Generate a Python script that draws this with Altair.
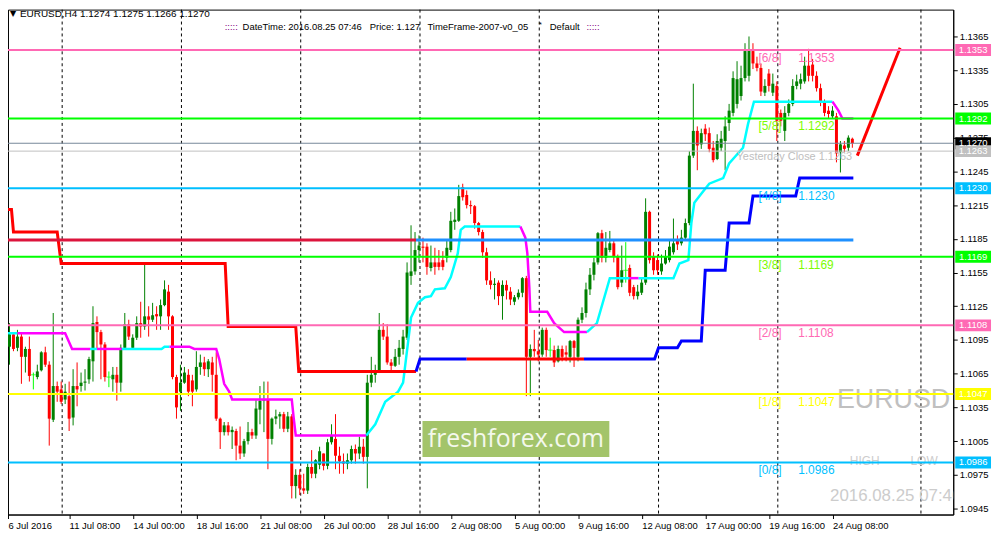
import altair as alt
import pandas as pd
import numpy as np

# ---------------- candle data (EURUSD H4, bar index 0..213) ----------------
opens = [1.1073,1.1089,1.1100,1.1088,1.1098,1.1080,1.1087,1.1064,1.1062,1.1068,
1.1084,1.1073,1.1024,1.1054,1.1051,1.1042,1.1045,1.1026,1.1054,1.1054,
1.1057,1.1060,1.1076,1.1111,1.1102,1.1091,1.1062,1.1060,1.1064,1.1057,
1.1088,1.1109,1.1088,1.1097,1.1110,1.1107,1.1116,1.1113,1.1118,1.1116,
1.1126,1.1138,1.1116,1.1062,1.1049,1.1057,1.1064,1.1059,1.1051,1.1071,
1.1075,1.1069,1.1075,1.1064,1.1025,1.1013,1.1019,1.1013,1.1014,1.1001,
1.0994,1.1005,1.1013,1.1010,1.1033,1.1041,1.1042,1.1007,1.1025,1.1027,
1.1029,1.1016,1.1027,1.0965,1.0975,1.0963,1.0961,1.0982,1.0976,1.0984,
1.0994,1.0983,1.1004,1.1007,1.0992,1.0987,1.0985,1.0988,1.0998,1.0994,
1.1000,1.0991,1.1057,1.1064,1.1068,1.1104,1.1098,1.1075,1.1072,1.1080,
1.1087,1.1097,1.1152,1.1156,1.1175,1.1178,1.1178,1.1159,1.1164,1.1164,
1.1166,1.1168,1.1175,1.1200,1.1201,1.1231,1.1224,1.1215,1.1214,1.1199,
1.1191,1.1173,1.1148,1.1144,1.1146,1.1134,1.1144,1.1138,1.1129,1.1133,
1.1137,1.1150,1.1080,1.1087,1.1085,1.1082,1.1104,1.1086,1.1086,1.1076,
1.1087,1.1084,1.1080,1.1094,1.1080,1.1113,1.1119,1.1140,1.1153,1.1164,
1.1190,1.1168,1.1175,1.1181,1.1169,1.1146,1.1157,1.1159,1.1142,1.1134,
1.1137,1.1146,1.1209,1.1169,1.1166,1.1156,1.1163,1.1166,1.1173,1.1184,
1.1181,1.1186,1.1199,1.1259,1.1281,1.1269,1.1283,1.1279,1.1266,1.1256,
1.1266,1.1272,1.1288,1.1297,1.1305,1.1312,1.1328,1.1330,1.1352,1.1341,
1.1337,1.1315,1.1332,1.1315,1.1321,1.1297,1.1281,1.1297,1.1305,1.1321,
1.1323,1.1325,1.1339,1.1340,1.1330,1.1319,1.1306,1.1299,1.1294,1.1294,
1.1262,1.1268,1.1266,1.1274]
highs = [1.1110,1.1110,1.1102,1.1104,1.1102,1.1089,1.1098,1.1066,1.1073,1.1085,
1.1089,1.1076,1.1119,1.1058,1.1058,1.1056,1.1058,1.1069,1.1075,1.1066,
1.1069,1.1080,1.1125,1.1116,1.1104,1.1093,1.1067,1.1071,1.1071,1.1091,
1.1119,1.1113,1.1100,1.1116,1.1129,1.1164,1.1125,1.1128,1.1125,1.1131,
1.1148,1.1144,1.1117,1.1064,1.1073,1.1071,1.1069,1.1064,1.1085,1.1082,
1.1080,1.1078,1.1080,1.1084,1.1026,1.1022,1.1022,1.1018,1.1016,1.1018,
1.1007,1.1022,1.1016,1.1042,1.1054,1.1058,1.1058,1.1026,1.1033,1.1031,
1.1031,1.1031,1.1029,1.0980,1.0980,1.0976,1.0985,1.0997,1.0989,1.1000,
1.0994,1.1007,1.1020,1.1029,1.1000,1.0994,1.0994,1.1001,1.1002,1.1009,
1.1007,1.1064,1.1080,1.1073,1.1119,1.1110,1.1109,1.1078,1.1087,1.1095,
1.1104,1.1164,1.1197,1.1191,1.1188,1.1186,1.1181,1.1179,1.1177,1.1175,
1.1174,1.1184,1.1209,1.1212,1.1233,1.1234,1.1228,1.1219,1.1215,1.1200,
1.1193,1.1177,1.1156,1.1150,1.1148,1.1148,1.1148,1.1142,1.1135,1.1140,
1.1151,1.1152,1.1091,1.1104,1.1095,1.1106,1.1106,1.1097,1.1090,1.1090,
1.1090,1.1090,1.1095,1.1095,1.1115,1.1124,1.1146,1.1159,1.1168,1.1191,
1.1193,1.1191,1.1192,1.1184,1.1171,1.1179,1.1182,1.1162,1.1144,1.1144,
1.1151,1.1221,1.1210,1.1173,1.1171,1.1171,1.1175,1.1184,1.1203,1.1188,
1.1193,1.1203,1.1263,1.1323,1.1285,1.1283,1.1287,1.1284,1.1272,1.1278,
1.1281,1.1294,1.1305,1.1334,1.1343,1.1339,1.1359,1.1365,1.1359,1.1347,
1.1341,1.1327,1.1336,1.1332,1.1325,1.1300,1.1303,1.1309,1.1327,1.1331,
1.1332,1.1347,1.1354,1.1345,1.1334,1.1323,1.1309,1.1303,1.1303,1.1297,
1.1272,1.1272,1.1277,1.1275]
lows = [1.1027,1.1073,1.1085,1.1085,1.1056,1.1066,1.1058,1.1051,1.1060,1.1067,
1.1071,1.1001,1.1022,1.1040,1.1038,1.1038,1.1014,1.1019,1.1036,1.1049,
1.1050,1.1056,1.1058,1.1087,1.1060,1.1058,1.1053,1.1049,1.1041,1.1049,
1.1087,1.1095,1.1087,1.1095,1.1097,1.1104,1.1098,1.1111,1.1104,1.1104,
1.1125,1.1104,1.1060,1.1025,1.1032,1.1056,1.1045,1.1036,1.1049,1.1064,
1.1063,1.1062,1.1049,1.1023,1.0998,1.1010,1.1010,1.0998,1.0988,1.0989,
1.0991,1.1002,1.1007,1.1007,1.1020,1.1013,1.0980,1.1002,1.1020,1.1016,
1.1013,1.1013,1.0954,1.0954,1.0957,1.0958,1.0958,1.0972,1.0972,1.0980,
1.0979,1.0980,1.1002,1.0980,1.0976,1.0976,1.0980,1.0985,1.0985,1.0989,
1.0985,1.0963,1.1053,1.1057,1.1066,1.1095,1.1073,1.1067,1.1071,1.1073,
1.1082,1.1095,1.1144,1.1153,1.1164,1.1164,1.1153,1.1156,1.1153,1.1157,
1.1157,1.1164,1.1173,1.1193,1.1200,1.1219,1.1212,1.1207,1.1194,1.1188,
1.1168,1.1144,1.1140,1.1131,1.1126,1.1113,1.1131,1.1126,1.1126,1.1131,
1.1133,1.1045,1.1045,1.1080,1.1076,1.1080,1.1080,1.1080,1.1071,1.1075,
1.1076,1.1076,1.1075,1.1071,1.1076,1.1110,1.1115,1.1135,1.1148,1.1162,
1.1164,1.1164,1.1173,1.1164,1.1140,1.1142,1.1146,1.1134,1.1131,1.1131,
1.1135,1.1144,1.1163,1.1153,1.1153,1.1153,1.1162,1.1164,1.1171,1.1175,
1.1179,1.1184,1.1197,1.1257,1.1246,1.1265,1.1272,1.1262,1.1253,1.1255,
1.1263,1.1246,1.1281,1.1294,1.1301,1.1308,1.1325,1.1325,1.1336,1.1334,
1.1312,1.1312,1.1316,1.1312,1.1272,1.1285,1.1272,1.1294,1.1303,1.1318,
1.1318,1.1323,1.1325,1.1325,1.1316,1.1303,1.1294,1.1292,1.1292,1.1253,
1.1244,1.1262,1.1263,1.1266]
closes = [1.1098,1.1100,1.1087,1.1098,1.1080,1.1087,1.1063,1.1064,1.1067,1.1084,
1.1073,1.1025,1.1054,1.1049,1.1040,1.1049,1.1025,1.1054,1.1051,1.1057,
1.1058,1.1078,1.1110,1.1102,1.1091,1.1062,1.1062,1.1064,1.1057,1.1088,
1.1109,1.1098,1.1097,1.1110,1.1107,1.1116,1.1113,1.1117,1.1116,1.1126,
1.1140,1.1116,1.1062,1.1035,1.1057,1.1066,1.1049,1.1049,1.1071,1.1075,
1.1069,1.1076,1.1064,1.1025,1.1013,1.1019,1.1013,1.1015,1.1001,1.0994,
1.1005,1.1013,1.1010,1.1034,1.1041,1.1042,1.1007,1.1025,1.1027,1.1029,
1.1016,1.1027,1.0965,1.0975,1.0963,1.0961,1.0982,1.0976,1.0988,1.0996,
1.0983,1.1004,1.1010,1.0992,1.0987,1.0985,1.0988,1.0998,1.0994,1.1000,
1.0991,1.1057,1.1064,1.1068,1.1104,1.1098,1.1075,1.1072,1.1080,1.1088,
1.1098,1.1155,1.1156,1.1175,1.1179,1.1177,1.1160,1.1164,1.1160,1.1160,
1.1160,1.1177,1.1201,1.1202,1.1223,1.1222,1.1215,1.1214,1.1199,1.1191,
1.1173,1.1148,1.1144,1.1145,1.1134,1.1144,1.1139,1.1131,1.1133,1.1137,
1.1150,1.1080,1.1087,1.1085,1.1082,1.1104,1.1086,1.1086,1.1075,1.1087,
1.1080,1.1082,1.1094,1.1088,1.1113,1.1119,1.1140,1.1153,1.1164,1.1190,
1.1168,1.1177,1.1181,1.1169,1.1142,1.1157,1.1157,1.1137,1.1134,1.1138,
1.1146,1.1209,1.1166,1.1157,1.1157,1.1163,1.1169,1.1178,1.1181,1.1180,
1.1186,1.1199,1.1259,1.1281,1.1268,1.1279,1.1278,1.1265,1.1255,1.1272,
1.1274,1.1285,1.1299,1.1328,1.1327,1.1328,1.1352,1.1353,1.1341,1.1337,
1.1316,1.1321,1.1321,1.1323,1.1290,1.1290,1.1297,1.1305,1.1321,1.1325,
1.1327,1.1339,1.1330,1.1330,1.1319,1.1306,1.1297,1.1296,1.1299,1.1261,
1.1269,1.1265,1.1275,1.1270]

# ---------------- axes ----------------
date_labels = ["6 Jul 2016", "11 Jul 08:00", "14 Jul 00:00", "18 Jul 16:00", "21 Jul 08:00",
               "26 Jul 00:00", "28 Jul 16:00", "2 Aug 08:00", "5 Aug 00:00", "9 Aug 16:00",
               "12 Aug 08:00", "17 Aug 00:00", "19 Aug 16:00", "24 Aug 08:00"]
date_ticks = [0.625, 16, 32, 48, 64, 80, 96, 112, 128, 144, 160, 176, 192, 208]
price_ticks = [1.0945, 1.0975, 1.1005, 1.1035, 1.1065, 1.1095, 1.1125, 1.1155,
               1.1185, 1.1215, 1.1245, 1.1275, 1.1305, 1.1335, 1.1365]
vgrid = [14.25, 44.25, 74.25, 104.25, 134.25, 164.25, 194.25, 230.25]

# ---------------- murrey levels ----------------
levels = [1.1353, 1.1292, 1.1230, 1.1169, 1.1108, 1.1047, 1.0986]
level_names = ["[6/8]", "[5/8]", "[4/8]", "[3/8]", "[2/8]", "[1/8]", "[0/8]"]
level_colors = ["#FF69B4", "#00FF00", "#00BFFF", "#00FF00", "#FF69B4", "#FFFF00", "#00BFFF"]
level_text_colors = ["#FF69B4", "#7CFC00", "#00BFFF", "#7CFC00", "#FF69B4", "#FFFF00", "#00BFFF"]
bid_price = 1.1270
yclose = 1.1263

# ---------------- indicator paths (bar index, price) ----------------
trail_segs = [
    ("#00FFFF", [0, 3], [1.1101, 1.1101]),
    ("#FF00FF", [3, 15, 15.75, 16.75, 21.25], [1.1101, 1.1101, 1.1095, 1.1087, 1.1087]),
    ("#00FFFF", [21.25, 23], [1.1087, 1.1087]),
    ("#FF00FF", [23, 29.25], [1.1087, 1.1087]),
    ("#00FFFF", [29.25, 39.25, 40, 41.25], [1.1087, 1.1087, 1.1089, 1.1089]),
    ("#FF00FF", [41.25, 46.25, 47.5, 53, 53.75, 55, 56.25, 57, 72, 72.5, 73, 90.75],
     [1.1089, 1.1089, 1.1087, 1.1087, 1.1078, 1.1056, 1.1049, 1.1042, 1.1042, 1.1025, 1.1010, 1.1010]),
    ("#00FFFF", [90.75, 93, 95.5, 98.75, 100, 101.25, 102, 103.75, 105.5, 107, 108, 110.5, 112, 113.75, 114.5, 115.5, 129.5],
     [1.1010, 1.1020, 1.1040, 1.1049, 1.1057, 1.1093, 1.1115, 1.1128, 1.1133, 1.1134, 1.1140, 1.1141, 1.1151, 1.1172, 1.1193, 1.1196, 1.1196]),
    ("#FF00FF", [129.5, 130.75, 131.25, 131.75, 132, 136.25, 138, 140.5, 146.25],
     [1.1196, 1.1186, 1.1172, 1.1142, 1.1120, 1.1120, 1.1110, 1.1102, 1.1102]),
    ("#00FFFF", [146.25, 148.75, 152, 157], [1.1102, 1.1110, 1.1150, 1.1150]),
    ("#FF00FF", [157, 159.25], [1.1150, 1.1150]),
    ("#00FFFF", [159.25, 168, 169.5, 171.75, 172.5, 173.25, 175, 177, 180.5, 182, 185.5, 186.75, 188.25, 208],
     [1.1150, 1.1150, 1.1163, 1.1166, 1.1199, 1.1217, 1.1225, 1.1234, 1.1239, 1.1252, 1.1266, 1.1287, 1.1307, 1.1307]),
    ("#FF00FF", [208, 209.5, 210.5, 213.25], [1.1307, 1.1299, 1.1292, 1.1292]),
]
stop_segs = [
    ("#FF0000", [0, 1.5, 2, 13, 14, 55.25, 56, 73, 73.75, 103.25],
     [1.1211, 1.1211, 1.1191, 1.1191, 1.1163, 1.1163, 1.1107, 1.1107, 1.1067, 1.1067]),
    ("#0000FF", [103.25, 104.25, 116], [1.1067, 1.1078, 1.1078]),
    ("#FF0000", [116, 145.5], [1.1078, 1.1078]),
    ("#0000FF", [145.5, 163.25, 164.25, 169, 170, 175, 176, 181, 182, 187, 188, 198.75, 199.75, 213.25],
     [1.1078, 1.1078, 1.1088, 1.1088, 1.1094, 1.1094, 1.1157, 1.1157, 1.1199, 1.1199, 1.1223, 1.1223, 1.1239, 1.1239]),
    ("#DC143C", [0, 103.25], [1.1184, 1.1184]),
    ("#1E90FF", [103.25, 213.25], [1.1184, 1.1184]),
    ("#FF0000", [214.25, 225], [1.1259, 1.1355]),
]

# ---------------- texts ----------------
header1 = "EURUSD,H4  1.1274 1.1275 1.1266 1.1270"
header_dots = ":::::"
header_dt = "DateTime: 2016.08.25 07:46"
header_price = "Price: 1.127"
header_tf = "TimeFrame-2007-v0_05"
header_default = "Default"
ycl_text = "Yesterday Close 1.1263"
sym_text = "EURUSD"
stamp_text = "2016.08.25 07:46"
wm_text = "freshforex.com"

# ---------------- build ----------------
W, H = 951, 508
FONT = "Liberation Sans"
xs = alt.Scale(domain=[0.625, 238.375], nice=False, zero=False, padding=0)
ys = alt.Scale(domain=[1.09397, 1.13889], nice=False, zero=False, padding=0)

label_arr = "[" + ",".join("'" + s + "'" for s in date_labels) + "]"
xaxis = alt.Axis(values=date_ticks, labelExpr=f"datum.value < 1 ? '{date_labels[0]}' : {label_arr}[round(datum.value/16)]",
                 labelAlign="left", labelFont=FONT, labelFontSize=9.5, labelColor="black",
                 tickSize=4, tickColor="black", domainColor="black", labelPadding=2,
                 grid=False, title=None, labelOverlap=False, labelFlush=False, orient="bottom")
yaxis = alt.Axis(values=price_ticks, format=".4f", orient="right", labelFont=FONT, labelFontSize=9.5,
                 labelColor="black", tickSize=4, tickColor="black", domainColor="black",
                 labelPadding=2, grid=False, title=None, labelOverlap=False, labelFlush=False)

df = pd.DataFrame({"i": np.arange(len(opens)), "o": opens, "h": highs, "l": lows, "c": closes})
df["col"] = np.where(df.c > df.o, "#008000", np.where(df.c < df.o, "#FF0000", "#00FF00"))


def X(f="i"):
    return alt.X(f + ":Q", scale=xs, axis=xaxis)


def Y(f="p"):
    return alt.Y(f + ":Q", scale=ys, axis=yaxis)


layers = []

# vertical dashed grid
layers.append(alt.Chart(pd.DataFrame({"i": vgrid})).mark_rule(color="black", strokeDash=[3, 3], strokeWidth=1)
              .encode(x=X()))

# watermark
layers.append(alt.Chart(pd.DataFrame({"a": [0]})).mark_rect(color="#A3C46A")
              .encode(x=alt.value(417), x2=alt.value(605), y=alt.value(414), y2=alt.value(450)))


def txt(text, x, y, size, color, font=FONT, align="left", clip=False):
    return (alt.Chart(pd.DataFrame({"t": [text]}))
            .mark_text(align=align, baseline="middle", fontSize=size, font=font, color=color, clip=clip)
            .encode(x=alt.value(x), y=alt.value(y), text="t:N"))


layers.append(txt(wm_text, 511, 432, 25, "#F4F8EC", font="Open Sans", align="center"))
layers.append(txt(sym_text, 834, 393, 27, "#C0C0C0"))
layers.append(txt("HIGH", 847, 454, 12, "#CCCCCC"))
layers.append(txt("LOW", 908, 454, 12, "#CCCCCC"))
layers.append(txt(stamp_text, 827, 489, 17, "#CCCCCC", clip=True))

# candles
layers.append(alt.Chart(df).mark_rule(strokeWidth=1)
              .encode(x=X(), y=Y("l"), y2="h:Q", color=alt.Color("col:N", scale=None)))
layers.append(alt.Chart(df[df.o != df.c]).mark_bar(size=3)
              .encode(x=X(), y=Y("o"), y2="c:Q", color=alt.Color("col:N", scale=None)))
layers.append(alt.Chart(df[df.o == df.c]).mark_tick(orient="horizontal", size=5, thickness=1)
              .encode(x=X(), y=Y("o"), color=alt.Color("col:N", scale=None)))

# indicator paths
rows = []
for sid, (colr, xsq, psq) in enumerate(trail_segs):
    for k, (a, b) in enumerate(zip(xsq, psq)):
        rows.append({"seg": "t%d" % sid, "k": k, "i": a, "p": b, "col": colr, "w": 2.5})
for sid, (colr, xsq, psq) in enumerate(stop_segs):
    for k, (a, b) in enumerate(zip(xsq, psq)):
        rows.append({"seg": "s%d" % sid, "k": k, "i": a, "p": b, "col": colr, "w": 3})
paths = pd.DataFrame(rows)
layers.append(alt.Chart(paths).mark_line(strokeCap="butt")
              .encode(x=X(), y=Y(), detail="seg:N", order="k:Q",
                      color=alt.Color("col:N", scale=None),
                      strokeWidth=alt.StrokeWidth("w:Q", scale=None)))

# horizontal levels
lv = pd.DataFrame({"p": levels, "name": level_names, "col": level_colors, "tc": level_text_colors})
layers.append(alt.Chart(pd.DataFrame({"p": [bid_price, yclose], "col": ["#778899", "#C0C0C0"]}))
              .mark_rule(strokeWidth=1).encode(y=Y(), color=alt.Color("col:N", scale=None)))
layers.append(alt.Chart(lv).mark_rule(strokeWidth=2).encode(y=Y(), color=alt.Color("col:N", scale=None)))
layers.append(alt.Chart(lv).mark_text(align="left", baseline="top", dy=3, font=FONT, fontSize=12)
              .encode(x=alt.value(755), y=Y(), text="name:N", color=alt.Color("tc:N", scale=None)))
layers.append(alt.Chart(lv).mark_text(align="left", baseline="top", dy=3, font=FONT, fontSize=12)
              .encode(x=alt.value(795), y=Y(), text=alt.Text("p:Q", format=".4f"),
                      color=alt.Color("tc:N", scale=None)))
layers.append(txt(ycl_text, 733, 148, 11, "#BEBEBE"))

# header
layers.append(txt("\u25BC", 2, 4, 8, "black", font="DejaVu Sans"))
layers.append(txt(header1, 12, 4, 10, "black"))
layers.append(txt(header_dots, 218, 18, 9.5, "#800080"))
layers.append(txt(header_dt, 236, 18, 9.5, "black"))
layers.append(txt(header_price, 364, 18, 9.5, "black"))
layers.append(txt(header_tf, 422, 18, 9.5, "black"))
layers.append(txt("*", 534, 15, 8, "black"))
layers.append(txt(header_default, 545, 18, 9.5, "black"))
layers.append(txt(header_dots, 582, 18, 9.5, "#800080"))

# right-axis price boxes
boxes = pd.DataFrame({"p": levels + [bid_price, yclose],
                      "bg": level_colors + ["#000000", "#C0C0C0"]})
layers.append(alt.Chart(boxes).mark_point(shape="M-1.5,-0.5L1.5,-0.5L1.5,0.5L-1.5,0.5Z", size=576,
                                          filled=True, opacity=1, strokeWidth=0)
              .encode(x=alt.value(971), y=Y(), color=alt.Color("bg:N", scale=None)))
layers.append(alt.Chart(boxes).mark_text(align="center", baseline="middle", font=FONT, fontSize=9.5, color="white")
              .encode(x=alt.value(971), y=Y(), text=alt.Text("p:Q", format=".4f")))

chart = (alt.layer(*layers)
         .properties(width=W, height=H, background="white",
                     autosize=alt.AutoSizeParams(type="none"),
                     padding={"left": 0, "top": 0, "right": 40, "bottom": 22})
         .configure_view(stroke="black", strokeWidth=1))

chart.save("out.html", embed_options={"renderer": "svg", "actions": False})
